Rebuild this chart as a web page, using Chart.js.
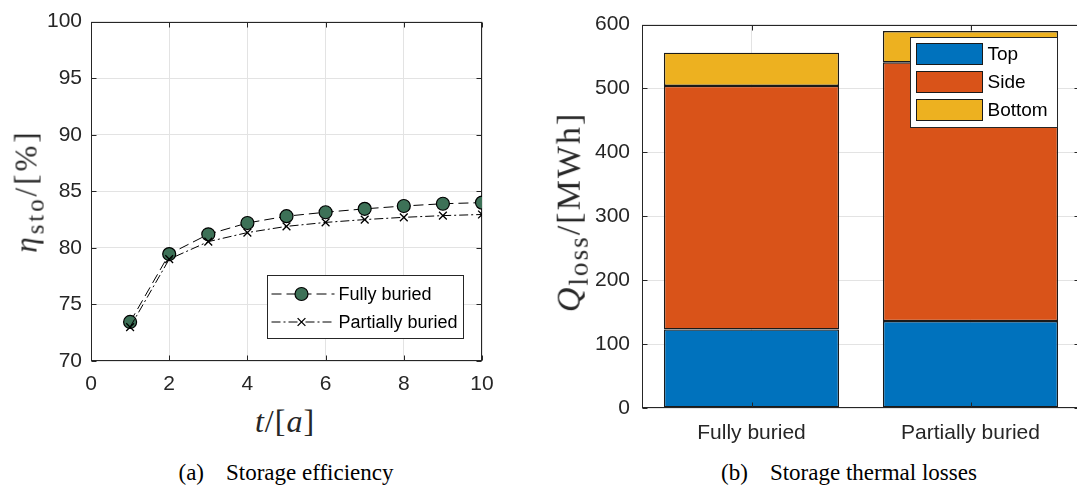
<!DOCTYPE html>
<html>
<head>
<meta charset="utf-8">
<script src="https://cdn.jsdelivr.net/npm/chart.js@4.4.1/dist/chart.umd.min.js"></script>
<style>
  html, body { margin: 0; padding: 0; background: #fff; overflow: hidden; }
  body { width: 1077px; height: 488px; position: relative; }
  .plot { position: absolute; top: 0; }
  .tex {
    position: absolute; white-space: nowrap; color: #262626;
    font-family: "Liberation Serif", "Times New Roman", serif;
    transform-origin: center center;
  }
  .tex i { font-style: italic; }
  .tex sub { font-size: 0.8em; vertical-align: -0.28em; }
  .caption { position: absolute; white-space: nowrap; color: #000; font-family: "Liberation Serif", serif; font-size: 23px; transform: translate(-50%, -50%); }
  .caption span { margin-right: 22px; }
</style>
</head>
<body>

<div class="plot" style="left:0; width:540px; height:400px;"><canvas id="effChart"></canvas></div>
<div class="plot" style="left:540px; width:540px; height:450px;"><canvas id="lossChart"></canvas></div>

<div class="tex" style="left:29px; top:191px; font-size:31px; letter-spacing:3px; transform:translate(-50%,-50%) rotate(-90deg);"><i>η</i><sub>sto</sub>/[%]</div>
<div class="tex" style="left:285px; top:421px; font-size:32px; letter-spacing:1px; transform:translate(-50%,-50%);"><i>t</i>/[<i>a</i>]</div>
<div class="tex" style="left:572px; top:212px; font-size:34px; letter-spacing:2px; transform:translate(-50%,-50%) rotate(-90deg);"><i>Q</i><sub>loss</sub>/[MWh]</div>

<div class="caption" style="left:286px; top:473px;"><span>(a)</span>Storage efficiency</div>
<div class="caption" style="left:849px; top:473px;"><span>(b)</span>Storage thermal losses</div>

<script>
// storage efficiency over the years
const years = [1, 2, 3, 4, 5, 6, 7, 8, 9, 10];
const fullyBuried = [73.45, 79.45, 81.2, 82.2, 82.8, 83.15, 83.45, 83.7, 83.9, 84.0];
const partiallyBuried = [73.0, 79.0, 80.55, 81.35, 81.9, 82.25, 82.5, 82.7, 82.85, 82.95];
const yearTicks = [0, 2, 4, 6, 8, 10];
const effTicks = [70, 75, 80, 85, 90, 95, 100];

// thermal losses per storage type, MWh
const storageTypes = ["Fully buried", "Partially buried"];
const lossTop = [123, 136];
const lossSide = [381, 405];
const lossBottom = [52, 49];
const lossTicks = [0, 100, 200, 300, 400, 500, 600];

const AXIS = "#262626";
const GRID = "#e3e3e3";
const SANS = "'Liberation Sans', Arial, sans-serif";

// box around the axes with inward ticks on all four sides
const boxAxes = {
  id: "boxAxes",
  draw(chart) {
    const { ctx, chartArea: a, scales } = chart;
    const L = Math.round(a.left) + 0.5, R = Math.round(a.right) - 0.5;
    const T = Math.round(a.top) + 0.5, B = Math.round(a.bottom) - 0.5;
    const tl = 5;
    ctx.save();
    ctx.strokeStyle = AXIS;
    ctx.lineWidth = 1;
    ctx.strokeRect(L, T, R - L, B - T);
    ctx.beginPath();
    scales.x.ticks.forEach((t, i) => {
      const px = Math.round(scales.x.getPixelForTick(i)) + 0.5;
      ctx.moveTo(px, B); ctx.lineTo(px, B - tl);
      ctx.moveTo(px, T); ctx.lineTo(px, T + tl);
    });
    scales.y.ticks.forEach((t, i) => {
      const py = Math.round(scales.y.getPixelForTick(i)) + 0.5;
      ctx.moveTo(L, py); ctx.lineTo(L + tl, py);
      ctx.moveTo(R, py); ctx.lineTo(R - tl, py);
    });
    ctx.stroke();
    ctx.restore();
  },
  beforeDatasetsDraw(chart, args, opts) { if (!opts.onTop) this.draw(chart); },
  afterDatasetsDraw(chart, args, opts) { if (opts.onTop) this.draw(chart); }
};

function drawMarker(ctx, ds, x, y) {
  ctx.setLineDash([]);
  ctx.lineWidth = ds.pointBorderWidth;
  ctx.strokeStyle = ds.pointBorderColor;
  ctx.fillStyle = ds.pointBackgroundColor;
  const r = ds.pointRadius;
  ctx.beginPath();
  if (ds.pointStyle === "circle") {
    ctx.arc(x, y, r, 0, Math.PI * 2);
    ctx.fill();
  } else {
    const d = r * Math.SQRT1_2;
    ctx.moveTo(x - d, y - d); ctx.lineTo(x + d, y + d);
    ctx.moveTo(x - d, y + d); ctx.lineTo(x + d, y - d);
  }
  ctx.stroke();
}

// legend for the line chart, lower right of the axes
const lineLegend = {
  id: "lineLegend",
  afterDraw(chart) {
    const { ctx, chartArea: a } = chart;
    const x0 = Math.round(a.right) - 214.5, y0 = 275.5, w = 196, h = 63;
    ctx.save();
    ctx.fillStyle = "#fff";
    ctx.fillRect(x0, y0, w, h);
    ctx.strokeStyle = AXIS;
    ctx.lineWidth = 1;
    ctx.strokeRect(x0, y0, w, h);
    ctx.font = "18px " + SANS;
    ctx.textBaseline = "middle";
    chart.data.datasets.forEach((ds, i) => {
      const cy = 294 + i * 28;
      ctx.setLineDash(ds.borderDash);
      ctx.strokeStyle = ds.borderColor;
      ctx.lineWidth = ds.borderWidth;
      ctx.beginPath();
      ctx.moveTo(x0 + 4, cy); ctx.lineTo(x0 + 67, cy);
      ctx.stroke();
      drawMarker(ctx, ds, x0 + 34, cy);
      ctx.fillStyle = "#000";
      ctx.fillText(ds.label, x0 + 71, cy + 1);
    });
    ctx.restore();
  }
};

// legend for the stacked bars, upper right of the axes
const barLegend = {
  id: "barLegend",
  afterDraw(chart) {
    const { ctx } = chart;
    const x0 = 370.5, y0 = 37.5, w = 147, h = 90;
    ctx.save();
    ctx.fillStyle = "#fff";
    ctx.fillRect(x0, y0, w, h);
    ctx.strokeStyle = AXIS;
    ctx.lineWidth = 1;
    ctx.strokeRect(x0, y0, w, h);
    ctx.font = "19px " + SANS;
    ctx.textBaseline = "middle";
    chart.data.datasets.forEach((ds, i) => {
      const sy = 43.5 + i * 28;
      ctx.fillStyle = ds.backgroundColor;
      ctx.fillRect(x0 + 6, sy, 66, 21);
      ctx.strokeStyle = "#1a1a1a";
      ctx.strokeRect(x0 + 6, sy, 66, 21);
      ctx.fillStyle = "#000";
      ctx.fillText(ds.label, x0 + 77, sy + 11.5);
    });
    ctx.restore();
  }
};

const tickFont = { family: SANS, size: 21 };

new Chart(document.getElementById("effChart"), {
  type: "line",
  data: {
    datasets: [
      {
        label: "Fully buried",
        data: years.map((t, i) => ({ x: t, y: fullyBuried[i] })),
        borderColor: "#000", borderWidth: 1, borderDash: [10, 5],
        pointStyle: "circle", pointRadius: 6.5, pointBorderWidth: 1.2,
        pointBackgroundColor: "#3d7157", pointBorderColor: "#000",
        tension: 0, order: 1
      },
      {
        label: "Partially buried",
        data: years.map((t, i) => ({ x: t, y: partiallyBuried[i] })),
        borderColor: "#000", borderWidth: 1, borderDash: [9, 3, 2, 3],
        pointStyle: "crossRot", pointRadius: 5.5, pointBorderWidth: 1.3,
        pointBackgroundColor: "#000", pointBorderColor: "#000",
        tension: 0, order: 0
      }
    ]
  },
  options: {
    responsive: true, maintainAspectRatio: false, animation: false,
    layout: { padding: { top: 11, right: 58, left: 0, bottom: 0 } },
    plugins: { legend: { display: false }, tooltip: { enabled: false }, boxAxes: { onTop: false } },
    scales: {
      x: {
        type: "linear", min: 0, max: 10,
        afterBuildTicks: s => { s.ticks = yearTicks.map(v => ({ value: v })); },
        afterFit: s => { s.height = 39; },
        grid: { color: GRID, drawTicks: false },
        border: { display: false },
        ticks: { color: AXIS, font: tickFont, padding: 11 }
      },
      y: {
        min: 70, max: 100,
        afterBuildTicks: s => { s.ticks = effTicks.map(v => ({ value: v })); },
        afterFit: s => { s.width = 91; },
        grid: { color: GRID, drawTicks: false },
        border: { display: false },
        ticks: { color: AXIS, font: tickFont, padding: 9 }
      }
    }
  },
  plugins: [boxAxes, lineLegend]
});

new Chart(document.getElementById("lossChart"), {
  type: "bar",
  data: {
    labels: storageTypes,
    datasets: [
      { label: "Top", data: lossTop, backgroundColor: "#0072bd" },
      { label: "Side", data: lossSide, backgroundColor: "#d95319" },
      { label: "Bottom", data: lossBottom, backgroundColor: "#edb120" }
    ].map(ds => Object.assign(ds, {
      borderColor: "#1a1a1a", borderWidth: 1.4, borderSkipped: false,
      barPercentage: 1, categoryPercentage: 0.8
    }))
  },
  options: {
    responsive: true, maintainAspectRatio: false, animation: false,
    layout: { padding: { top: 15, right: 0, left: 0, bottom: 0 } },
    plugins: { legend: { display: false }, tooltip: { enabled: false }, boxAxes: { onTop: true } },
    scales: {
      x: {
        stacked: true,
        afterFit: s => { s.height = 42; },
        grid: { color: GRID, drawTicks: false, offset: false },
        border: { display: false },
        ticks: { color: AXIS, font: tickFont, padding: 13 }
      },
      y: {
        stacked: true, min: 0, max: 600,
        afterBuildTicks: s => { s.ticks = lossTicks.map(v => ({ value: v })); },
        afterFit: s => { s.width = 102; },
        grid: { color: GRID, drawTicks: false },
        border: { display: false },
        ticks: { color: AXIS, font: tickFont, padding: 12 }
      }
    }
  },
  plugins: [boxAxes, barLegend]
});
</script>
</body>
</html>
